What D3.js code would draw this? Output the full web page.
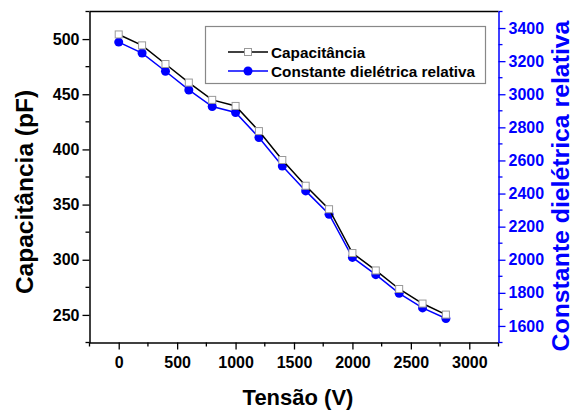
<!DOCTYPE html>
<html><head><meta charset="utf-8">
<script src="https://cdn.jsdelivr.net/npm/d3@7"></script>
<style>
html,body{margin:0;padding:0;background:#fff;}
svg{display:block;font-family:"Liberation Sans",Arial,sans-serif;font-weight:bold;}
</style></head>
<body><svg id="c" width="575" height="410"></svg>
<script>
const tensao = [0,200,400,600,800,1000,1200,1400,1600,1800,2000,2200,2400,2600,2800];
const capacitancia = [504.2,494.3,477.4,460.6,444.9,439.4,416.6,390.4,367.1,345.8,306.1,290.3,273.5,260.3,250.3];
const constante = [3315,3249,3139,3026,2926,2890,2739,2566,2416,2275,2014,1910,1797,1709,1645];
const xTicks = [0,500,1000,1500,2000,2500,3000];
const yLeftTicks = [250,300,350,400,450,500];
const yRightTicks = [1600,1800,2000,2200,2400,2600,2800,3000,3200,3400];
const seriesNames = ["Capacitância","Constante dielétrica relativa"];
const xTitle = "Tensão (V)", yLeftTitle = "Capacitância (pF)", yRightTitle = "Constante dielétrica relativa";

const svg = d3.select("#c");
const L=89.5, R=498.5, T=11.5, B=342.5;
const x = d3.scaleLinear().domain([-250,3250]).range([L,R]);
const yL = d3.scaleLinear().domain([225,525]).range([B,T]);
const yR = d3.scaleLinear().domain([1500,3500]).range([B,T]);
const blue = "#0000ff";
const fmt = d3.format("d");

svg.append("line").attr("x1",L).attr("x2",R).attr("y1",T).attr("y2",T).attr("stroke","#000").attr("stroke-width",1.5);

function styleAxis(g,color,fs){
  g.select(".domain").attr("stroke",color).attr("stroke-width",1.5);
  g.selectAll(".tick line").attr("stroke",color).attr("stroke-width",1.3);
  g.selectAll(".tick text").attr("fill",color).style("font-size",fs+"px").style("font-weight","bold").style("font-family","Liberation Sans, Arial, sans-serif");
}
function minor(g, scale, vals, orient, color){
  vals.forEach(v=>{
    const p = scale(v);
    if(orient==="bottom") g.append("line").attr("x1",p).attr("x2",p).attr("y1",0).attr("y2",4).attr("stroke",color).attr("stroke-width",1.3);
    if(orient==="left") g.append("line").attr("y1",p).attr("y2",p).attr("x1",0).attr("x2",-4).attr("stroke",color).attr("stroke-width",1.3);
    if(orient==="right") g.append("line").attr("y1",p).attr("y2",p).attr("x1",0).attr("x2",4).attr("stroke",color).attr("stroke-width",1.3);
  });
}
const gx = svg.append("g").attr("transform",`translate(0,${B})`)
  .call(d3.axisBottom(x).tickValues(xTicks).tickSize(7).tickSizeOuter(0).tickPadding(7).tickFormat(fmt));
styleAxis(gx,"#000",16);
minor(gx,x,d3.range(-250,3251,500),"bottom","#000");

const gl = svg.append("g").attr("transform",`translate(${L},0)`)
  .call(d3.axisLeft(yL).tickValues(yLeftTicks).tickSize(7).tickSizeOuter(0).tickPadding(3).tickFormat(fmt));
styleAxis(gl,"#000",16);
minor(gl,yL,d3.range(225,526,50),"left","#000");

const gr = svg.append("g").attr("transform",`translate(${R},0)`)
  .call(d3.axisRight(yR).tickValues(yRightTicks).tickSize(7).tickSizeOuter(0).tickPadding(3).tickFormat(fmt));
styleAxis(gr,blue,16);
minor(gr,yR,d3.range(1500,3501,200),"right",blue);

svg.append("text").attr("x",(L+R)/2+4).attr("y",405).attr("text-anchor","middle").style("font-size","22px").text(xTitle);
svg.append("text").attr("transform",`translate(33,192) rotate(-90)`).attr("text-anchor","middle").style("font-size","24.5px").text(yLeftTitle);
svg.append("text").attr("transform",`translate(562,186) rotate(-90)`).attr("text-anchor","middle").attr("dominant-baseline","middle").attr("fill",blue).style("font-size","24.8px").text(yRightTitle);

const lineB = d3.line().x((d,i)=>x(tensao[i])).y(d=>yR(d));
svg.append("path").datum(constante).attr("d",lineB).attr("fill","none").attr("stroke",blue).attr("stroke-width",1.5);
svg.selectAll("circle.b").data(constante).join("circle").attr("class","b")
  .attr("cx",(d,i)=>x(tensao[i])).attr("cy",d=>yR(d)).attr("r",4.5).attr("fill",blue);
const lineK = d3.line().x((d,i)=>x(tensao[i])).y(d=>yL(d));
svg.append("path").datum(capacitancia).attr("d",lineK).attr("fill","none").attr("stroke","#000").attr("stroke-width",1.5);
svg.selectAll("rect.s").data(capacitancia).join("rect").attr("class","s")
  .attr("x",(d,i)=>x(tensao[i])-3.5).attr("y",d=>yL(d)-3.5).attr("width",7).attr("height",7)
  .attr("fill","#fff").attr("stroke","#999").attr("stroke-width",1);

const lg = svg.append("g");
lg.append("rect").attr("x",205.5).attr("y",26.5).attr("width",280).attr("height",57).attr("fill","#fff").attr("stroke","#888").attr("stroke-width",1.2);
const rows=[{y:52,c:"#000",m:"sq"},{y:71,c:blue,m:"ci"}];
rows.forEach((r,i)=>{
  lg.append("line").attr("x1",228).attr("x2",268).attr("y1",r.y).attr("y2",r.y).attr("stroke",r.c).attr("stroke-width",1.5);
  if(r.m==="sq") lg.append("rect").attr("x",244.5).attr("y",r.y-3.5).attr("width",7).attr("height",7).attr("fill","#fff").attr("stroke","#999");
  else lg.append("circle").attr("cx",248).attr("cy",r.y).attr("r",4.5).attr("fill",blue);
  lg.append("text").attr("x",271).attr("y",r.y+5.5).style("font-size","15.3px").attr("fill","#000").text(seriesNames[i]);
});
</script></body></html>
